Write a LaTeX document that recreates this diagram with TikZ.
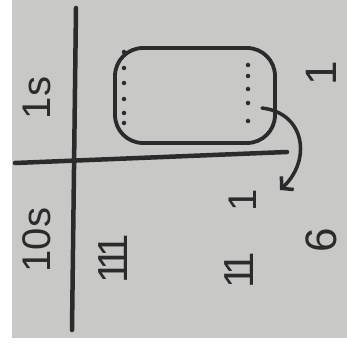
\documentclass[tikz,border=0pt]{standalone}
\usepackage{fontspec}
\newfontfamily\handfont{Liberation Sans}
\newfontfamily\tallyfont{Liberation Sans}[LetterSpace=-18]
\usepackage{xcolor}
\definecolor{ink}{HTML}{2B2B2B}
\definecolor{paper}{HTML}{C8C8C6}
\usetikzlibrary{arrows.meta,positioning}
\tikzset{
  chartline/.style={ink,line width=4.5pt,line cap=round},
  colhead/.style={ink,rotate=90,inner sep=0pt,font=\handfont\fontsize{40}{40}\selectfont},
  tallymark/.style={ink,rotate=90,inner sep=0pt,font=\tallyfont\fontsize{42}{42}\selectfont},
  answer/.style={ink,rotate=90,inner sep=0pt,font=\handfont\fontsize{44}{44}\selectfont},
  onedot/.style={circle,fill=ink,inner sep=0pt,minimum size=4.5pt},
  regroupbox/.style={draw=ink,line width=3.8pt,rounded corners=28pt,minimum width=160pt,minimum height=95pt},
  carryarrow/.style={-{Straight Barb[length=8pt,width=18pt]},ink,line width=3.5pt,line cap=round}
}
\begin{document}
\begin{tikzpicture}[x=1pt,y=1pt]
\useasboundingbox (0,0) rectangle (347,345);
\fill[paper] (12,7) rectangle (347,345);
% place value chart
\draw[chartline] (76,337) -- (72,15);
\draw[chartline] (15,182) -- (287,193);
\node[colhead] (ones) at (37,247) {1s};
\node[colhead] (tens) at (37,105) {10s};
% eleven ones, ten of them grouped
\node[regroupbox] (regroup) at (195,249.5) {};
\foreach \y [count=\i] in {293,277,262,246,232,222}
  \node[onedot] (dotl\i) at (124,\y) {};
\foreach \y [count=\i] in {280,269,256,242,224}
  \node[onedot] (dotr\i) at (248,\y) {};
% tens
\node[tallymark] (tensa) at (113,86) {111};
\node[tallymark] (tensb) at (239,75) {11};
\node[tallymark,font=\handfont\fontsize{40}{40}\selectfont] (carry) at (243,145) {1};
% answer
\node[answer] (ansones) at (321,272) {1};
\node[answer] (anstens) at (321,105) {6};
\coordinate (carryfrom) at (262,237);
\coordinate (carryto) at (280,155);
\draw[carryarrow] (carryfrom) .. controls (305,232) and (312,185) .. (carryto);
\end{tikzpicture}
\end{document}
